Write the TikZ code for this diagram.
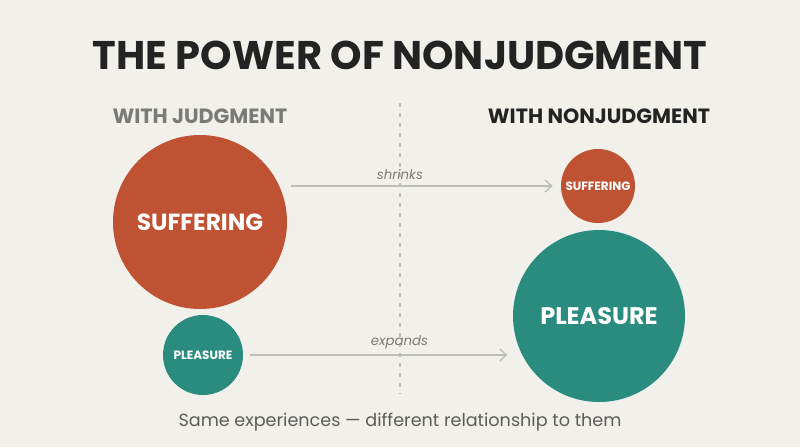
\documentclass[tikz,border=0pt]{standalone}
\usepackage{fontspec}
\setmainfont{Poppins}
\usetikzlibrary{arrows.meta}
\definecolor{bg}{HTML}{F1F0EB}
\definecolor{rust}{HTML}{BF5232}
\definecolor{teal}{HTML}{2A8C7E}
\definecolor{ink}{HTML}{232323}
\definecolor{muted}{HTML}{7A7A78}
\definecolor{capgray}{HTML}{5C5C5A}
\definecolor{arrowgray}{HTML}{BDBDBA}
\tikzset{
  bubble/.style={circle, inner sep=0pt, text=white, font=\bfseries},
  flow/.style={->, >={Straight Barb[length=5pt, width=9pt]}, arrowgray, line width=1pt},
  flowlabel/.style={above=1pt, muted, font=\fontsize{10}{12}\selectfont\itshape},
}
\begin{document}
\begin{tikzpicture}[x=0.75pt, y=-0.75pt]
        \fill[bg] (0, 0) rectangle (800, 447);
        \useasboundingbox (0, 0) rectangle (800, 447);

        \node[ink, font=\fontsize{30}{34}\selectfont\bfseries] (title) at (400, 55) {THE POWER OF NONJUDGMENT};
        \node[muted, font=\fontsize{15.5}{18}\selectfont\bfseries] (withj) at (200, 116) {WITH JUDGMENT};
        \node[ink, font=\fontsize{15.5}{18}\selectfont\bfseries] (withn) at (599, 116) {WITH NONJUDGMENT};

        \coordinate (divtop) at (400, 103);
        \coordinate (divbot) at (400, 394);
        \draw[arrowgray, line width=1.1pt, dash pattern=on 3pt off 4.5pt] (divtop) -- (divbot);

        \node[bubble, fill=rust, minimum size=174*0.75pt, font=\fontsize{17.5}{20}\selectfont\bfseries] (sufferL) at (200, 222) {SUFFERING};
        \node[bubble, fill=teal, minimum size=80*0.75pt, font=\fontsize{9}{11}\selectfont\bfseries] (pleasureL) at (203, 355) {PLEASURE};
        \node[bubble, fill=rust, minimum size=74*0.75pt, font=\fontsize{9}{11}\selectfont\bfseries] (sufferR) at (598, 186) {SUFFERING};
        \node[bubble, fill=teal, minimum size=172*0.75pt, font=\fontsize{18}{21}\selectfont\bfseries] (pleasureR) at (599, 316) {PLEASURE};

        \draw[flow, shorten <=3pt, shorten >=6pt] (sufferL.east |- sufferR.west) -- node[pos=0.412, flowlabel] (shr) {shrinks} (sufferR.west);
        \draw[flow, shorten <=5pt, shorten >=4pt] (pleasureL.east) -- node[pos=0.58, flowlabel] (exp) {expands} (pleasureL.east -| pleasureR.west);

        \node[capgray, font=\fontsize{13.2}{16}\selectfont] (caption) at (400, 422) {Same experiences — different relationship to them};
    \end{tikzpicture}
\end{document}
